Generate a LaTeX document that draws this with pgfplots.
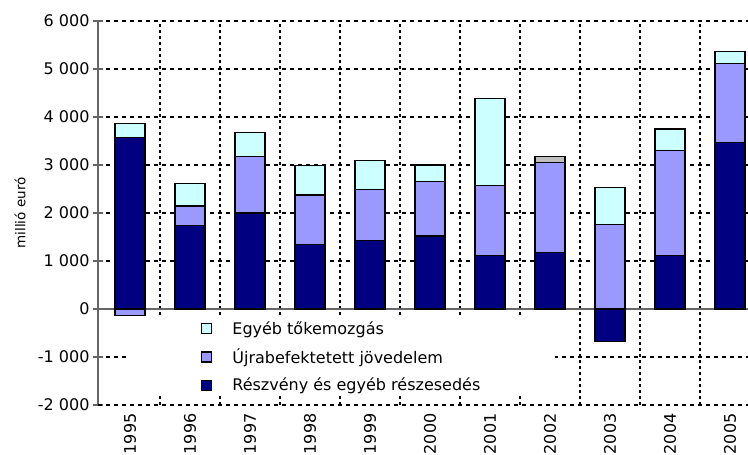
\documentclass[border=0pt]{standalone}
\usepackage{fontspec}
\setmainfont{DejaVu Sans}
\usepackage{pgfplots}
\pgfplotsset{compat=1.18}
\definecolor{navyb}{HTML}{000080}
\definecolor{lavb}{HTML}{9999FF}
\definecolor{cyanb}{HTML}{CCFFFF}
\definecolor{grayb}{HTML}{C0C0C0}
\definecolor{axgray}{HTML}{666666}
\newcommand\f{\fontsize{16}{19}\selectfont}
\newcommand\fl{\fontsize{16}{19}\selectfont}
\begin{document}
\begin{tikzpicture}
\path[use as bounding box] (0,0) rectangle (748pt,455pt);
\begin{axis}[
  at={(98pt,50pt)}, anchor=south west, scale only axis,
  width=650pt, height=384pt,
  xmin=-0.533, xmax=10.3, ymin=-2000, ymax=6000,
  ybar stacked, bar width=30pt,
  axis y line*=left, axis x line*=bottom,
  x axis line style={draw=none},
  y axis line style={draw=axgray, line width=1.8pt},
  ytick={-2000,-1000,...,6000},
  ytick style={draw=axgray, line width=1.5pt},
  tick align=center, major tick length=10pt,
  xtick={0,...,10},
  xticklabels={1995,1996,1997,1998,1999,2000,2001,2002,2003,2004,2005},
  x tick style={draw=none},
  xticklabel style={rotate=90, anchor=east, font=\f},
  yticklabel style={font=\f},
  /pgf/number format/.cd, 1000 sep={\ }, assume math mode=true, /pgfplots/.cd,
  ymajorgrids,
  major grid style={black, line width=1.4pt, dash pattern=on 4pt off 4pt},
  extra x ticks={0.5,1.5,...,9.5}, extra x tick labels={},
  extra x tick style={grid=major, major grid style={black, line width=1.4pt, dash pattern=on 2.5pt off 3.5pt}},
  extra y ticks={0}, extra y tick labels={},
  extra y tick style={grid=major, major grid style={solid, draw=axgray, line width=2pt}},
  legend style={at={(axis description cs:0.046,0.226)}, anchor=north west,
    fill=white, draw=none, font=\fl, inner xsep=73pt, inner ysep=2pt, row sep=11pt,
    nodes={inner ysep=1pt},
    /tikz/every odd column/.append style={column sep=18pt}},
  legend cell align=left, reverse legend,
  legend image code/.code={\draw[#1, draw=black, line width=1.3pt] (0pt,-5pt) rectangle (10pt,5pt);},
  every axis plot/.append style={draw=black, line width=1.2pt},
  ylabel={millió euró},
  ylabel style={at={(axis description cs:-0.12,0.5)}, anchor=center, font=\fontsize{13.5}{16}\selectfont},
]
\addplot[fill=navyb] coordinates {(0,3570) (1,1740) (2,2000) (3,1345) (4,1430) (5,1520) (6,1115) (7,1185) (8,0) (9,1115) (10,3470)};
\addplot[fill=lavb] coordinates {(0,0) (1,405) (2,1175) (3,1030) (4,1065) (5,1130) (6,1465) (7,1865) (8,1765) (9,2180) (10,1650)};
\addplot[fill=cyanb] coordinates {(0,300) (1,465) (2,500) (3,620) (4,605) (5,350) (6,1800) (7,0) (8,765) (9,455) (10,250)};
\addplot[fill=grayb, forget plot] coordinates {(0,0) (1,0) (2,0) (3,0) (4,0) (5,0) (6,0) (7,125) (8,0) (9,0) (10,0)};
\legend{Részvény és egyéb részesedés, Újrabefektetett jövedelem, Egyéb tőkemozgás}
\end{axis}
\begin{axis}[
  at={(98pt,50pt)}, anchor=south west, scale only axis,
  width=650pt, height=384pt,
  xmin=-0.533, xmax=10.3, ymin=-2000, ymax=6000,
  ybar, bar width=30pt,
  axis line style={draw=none}, tick style={draw=none},
  xtick=\empty, ytick={-2000}, yticklabels={},
  ymajorgrids,
  major grid style={black, line width=1.4pt, dash pattern=on 4pt off 4pt},
]
\addplot[fill=lavb, draw=black, line width=1.2pt, bar shift=0pt] coordinates {(0,-140)};
\addplot[fill=navyb, draw=black, line width=1.2pt, bar shift=0pt] coordinates {(8,-680)};
\end{axis}
\end{tikzpicture}
\end{document}
